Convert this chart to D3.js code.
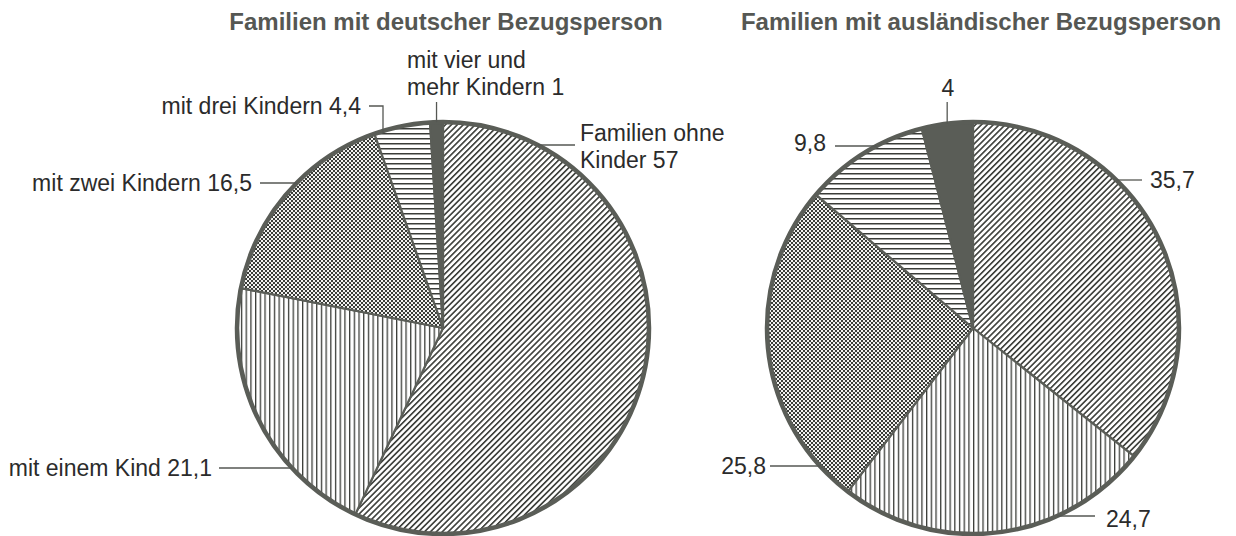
<!DOCTYPE html>
<html>
<head>
<meta charset="utf-8">
<script src="https://cdn.jsdelivr.net/npm/d3@7/dist/d3.min.js"></script>
<style>
  html, body { margin: 0; padding: 0; background: #fff; }
  svg { display: block; }
  .title { font-family: "Liberation Sans", Arial, sans-serif; font-weight: bold; font-size: 24px; fill: #555753; }
  .lbl { font-family: "Liberation Sans", Arial, sans-serif; font-size: 23px; fill: #2b2b2b; }
</style>
</head>
<body>
<svg id="chart" width="1236" height="536"></svg>
<script>
// ---- data ----
const categories = ["Familien ohne Kinder", "mit einem Kind", "mit zwei Kindern", "mit drei Kindern", "mit vier und mehr Kindern"];
const germanValues = [57, 21.1, 16.5, 4.4, 1];
const foreignValues = [35.7, 24.7, 25.8, 9.8, 4];
const chartTitles = ["Familien mit deutscher Bezugsperson", "Familien mit ausländischer Bezugsperson"];
const germanLabels = [["Familien ohne", "Kinder 57"], ["mit einem Kind 21,1"], ["mit zwei Kindern 16,5"], ["mit drei Kindern 4,4"], ["mit vier und", "mehr Kindern 1"]];
const foreignLabels = [["35,7"], ["24,7"], ["25,8"], ["9,8"], ["4"]];

// ---- layout ----
const svg = d3.select("#chart");
const ink = "#5a5d57";
const defs = svg.append("defs");

function linePattern(id, spacing, width, rot) {
  const p = defs.append("pattern").attr("id", id).attr("patternUnits", "userSpaceOnUse")
    .attr("width", spacing).attr("height", spacing)
    .attr("patternTransform", `rotate(${rot})`);
  p.append("rect").attr("width", spacing).attr("height", spacing).attr("fill", "#fff");
  p.append("rect").attr("x", 0).attr("y", 0).attr("width", width).attr("height", spacing).attr("fill", "#3a3c38");
}
linePattern("pDiag", 4.2, 1.6, 45);
linePattern("pVert", 4.7, 1.3, 0);
linePattern("pHorz", 5.0, 1.5, 90);
(function () {
  const p = defs.append("pattern").attr("id", "pCheck").attr("patternUnits", "userSpaceOnUse")
    .attr("width", 4).attr("height", 4);
  p.append("rect").attr("width", 4).attr("height", 4).attr("fill", "#f2f2f0");
  p.append("rect").attr("x", 0).attr("y", 0).attr("width", 2).attr("height", 2).attr("fill", "#3a3c38");
  p.append("rect").attr("x", 2).attr("y", 2).attr("width", 2).attr("height", 2).attr("fill", "#3a3c38");
})();
const fills = ["url(#pDiag)", "url(#pVert)", "url(#pCheck)", "url(#pHorz)", "#5a5d57"];

const color = d3.scaleOrdinal().domain(categories).range(fills);

// label layout: for each slice, text anchor, position and leader type
const germanLayout = [
  { anchor: "start", x: 580, y: 133, leader: "h", ly: 145, lx: 575 },
  { anchor: "end", x: 212, y: 468, leader: "h", ly: 468, lx: 219 },
  { anchor: "end", x: 252, y: 183, leader: "h", ly: 183, lx: 260 },
  { anchor: "end", x: 361, y: 106, leader: "hook", ly: 106, lx: 369, hx: 383 },
  { anchor: "start", x: 407, y: 60, leader: "v", ly: 102 }
];
const foreignLayout = [
  { anchor: "start", x: 1150, y: 180, leader: "h", ly: 180, lx: 1142 },
  { anchor: "start", x: 1106, y: 519, leader: "h", ly: 516, lx: 1095 },
  { anchor: "end", x: 766, y: 466, leader: "h", ly: 466, lx: 770 },
  { anchor: "end", x: 826, y: 143, leader: "h", ly: 146, lx: 835 },
  { anchor: "middle", x: 948, y: 88, leader: "v", ly: 102 }
];

const charts = [
  { title: chartTitles[0], values: germanValues, labels: germanLabels, layout: germanLayout, cx: 443, cy: 328, r: 206, tx: 446 },
  { title: chartTitles[1], values: foreignValues, labels: foreignLabels, layout: foreignLayout, cx: 973, cy: 328, r: 206, tx: 981 }
];

const pie = d3.pie().sort(null).value(d => d.value).startAngle(0).endAngle(2 * Math.PI);

charts.forEach(c => {
  const g = svg.append("g");
  g.append("text").attr("class", "title").attr("x", c.tx).attr("y", 22).attr("dy", "0.35em")
    .attr("text-anchor", "middle").text(c.title);

  const data = categories.map((k, i) => ({ key: k, value: c.values[i], label: c.labels[i], lay: c.layout[i] }));
  const arcs = pie(data);
  const arc = d3.arc().innerRadius(0).outerRadius(c.r);
  const pg = g.append("g").attr("transform", `translate(${c.cx},${c.cy})`);
  pg.selectAll("path.slice").data(arcs).join("path").attr("class", "slice")
    .attr("d", arc).attr("fill", d => color(d.data.key))
    .attr("stroke", ink).attr("stroke-width", 2.2).attr("stroke-linejoin", "round");
  pg.append("circle").attr("r", c.r).attr("fill", "none").attr("stroke", ink).attr("stroke-width", 4.5);

  // labels + leaders
  arcs.forEach(a => {
    const L = a.data.lay;
    const t = g.append("text").attr("class", "lbl").attr("text-anchor", L.anchor);
    a.data.label.forEach((line, j) => {
      t.append("tspan").attr("x", L.x).attr("y", L.y + j * 27).attr("dy", "0.35em").text(line);
    });
    let pts;
    if (L.leader === "h") {
      const dy = L.ly - c.cy;
      const dx = Math.sqrt(Math.max(0, c.r * c.r - dy * dy));
      const side = L.lx > c.cx ? 1 : -1;
      pts = [[L.lx, L.ly], [c.cx + side * dx, L.ly]];
    } else if (L.leader === "hook") {
      const dxh = L.hx - c.cx;
      const ey = c.cy - Math.sqrt(c.r * c.r - dxh * dxh);
      pts = [[L.lx, L.ly], [L.hx, L.ly], [L.hx, ey + 2]];
    } else {
      const mid = (a.startAngle + a.endAngle) / 2;
      const ex = c.cx + c.r * Math.sin(mid);
      const ey = c.cy - c.r * Math.cos(mid);
      pts = [[ex, L.ly], [ex, ey]];
    }
    g.append("path").attr("d", d3.line()(pts)).attr("fill", "none")
      .attr("stroke", "#555753").attr("stroke-width", 1.3);
  });
});
</script>
</body>
</html>
